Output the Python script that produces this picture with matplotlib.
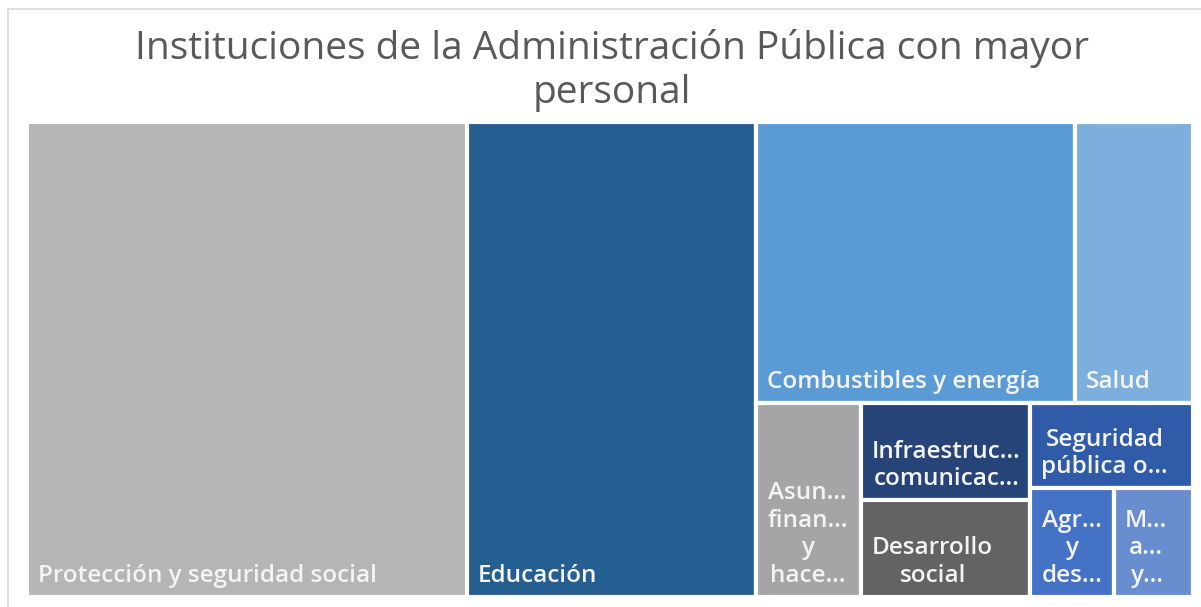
import matplotlib
matplotlib.use("Agg")
import matplotlib.pyplot as plt
from matplotlib.patches import Rectangle

# relative staff size per institution group (read from tile areas)
categories = [
    "Protección y seguridad social", "Educación", "Combustibles y energía",
    "Salud", "Asuntos financieros y hacendarios",
    "Infraestructura, comunicaciones y transportes", "Desarrollo social",
    "Seguridad pública o nacional", "Agricultura y desarrollo rural",
    "Medio ambiente y recursos naturales",
]
values = [206.7, 136.2, 88.4, 32.9, 20.2, 16.4, 16.2, 13.8, 9.0, 8.5]
labels = [
    "Protección y seguridad social", "Educación", "Combustibles y energía",
    "Salud", "Asun…\nfinan…\ny\nhace…", "Infraestruc…\ncomunicac…",
    "Desarrollo\nsocial", "Seguridad\npública o…", "Agr…\ny\ndes…",
    "M…\na…\ny…",
]
colors = ["#b5b5b5", "#255e91", "#5b9bd5", "#7cafdd", "#a5a5a5",
          "#264478", "#636363", "#2f5ba8", "#4472c4", "#698ed0"]

TITLE = "Instituciones de la Administración Pública con mayor\npersonal"
TOL = 1.13  # how much worse a row may get before it is closed


def worst(row, side):
    t = sum(row) / side
    return max(max(a / t / t, t * t / a) for a in row)


def squarify(vals, x, y, w, h):
    scale = w * h / sum(vals)
    areas = [v * scale for v in vals]
    rects = []
    i = 0
    while i < len(areas):
        side = min(w, h)
        row = [areas[i]]
        i += 1
        while i < len(areas):
            cand = row + [areas[i]]
            if worst(cand, side) <= worst(row, side) * TOL:
                row = cand
                i += 1
            else:
                break
        s = sum(row)
        if w >= h:  # column on the left, filled top to bottom
            cw = s / h
            yy = y + h
            for a in row:
                rh = a / cw
                yy -= rh
                rects.append((x, yy, cw, rh))
            x += cw
            w -= cw
        else:  # row on top, filled left to right
            rh = s / w
            xx = x
            for a in row:
                rw = a / rh
                rects.append((xx, y + h - rh, rw, rh))
                xx += rw
            h -= rh
    return rects


W, H = 1201, 607
fig = plt.figure(figsize=(W / 100, H / 100), dpi=100)
fig.patch.set_facecolor("white")

# chart frame (light border, cut off at right/bottom)
fig.add_artist(Rectangle((8 / W, -0.05), 1.5, 1.05 - 9 / H,
                         transform=fig.transFigure, fill=False,
                         edgecolor="#d9d9d9", lw=1.2))

x0, x1, ytop, ybot = 27, 1193, 122, 597
ax = fig.add_axes([x0 / W, (H - ybot) / H, (x1 - x0) / W, (ybot - ytop) / H])
aw, ah = x1 - x0, ybot - ytop
ax.set_xlim(0, aw)
ax.set_ylim(0, ah)
ax.axis("off")

pad = 11
for (rx, ry, rw, rh), lab, col in zip(squarify(values, 0, 0, aw, ah),
                                      labels, colors):
    ax.add_patch(Rectangle((rx, ry), rw, rh, facecolor=col,
                           edgecolor="white", lw=3))
    ax.text(rx + pad, ry + pad - 2, lab, ha="left", va="bottom",
            multialignment="center", color="#f4f4f4", fontsize=17.5,
            fontweight="semibold", family=["Open Sans", "DejaVu Sans"],
            linespacing=1.2)

fig.text(612 / W, 1 - 103 / H, TITLE, ha="center", va="baseline",
         fontsize=28, color="#595959", linespacing=1.2,
         family=["Open Sans", "DejaVu Sans"])

fig.savefig("out.png", dpi=100)
